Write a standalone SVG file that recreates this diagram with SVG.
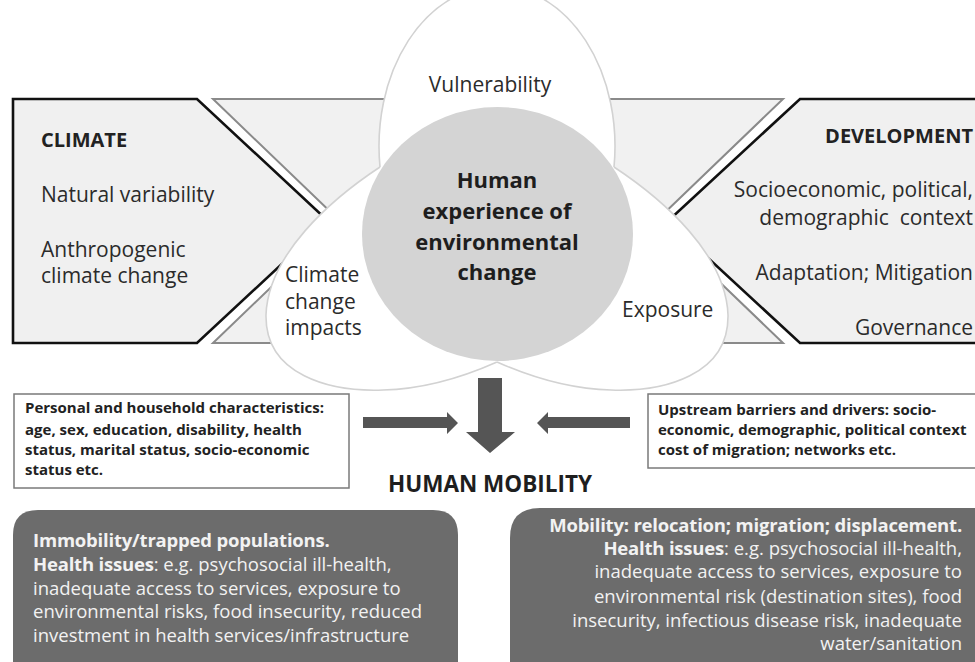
<svg xmlns="http://www.w3.org/2000/svg" width="975" height="662" viewBox="0 0 975 662">
  <style>
    text { font-family: "Open Sans", "Liberation Sans", sans-serif; }
    .side { font-size: 21px; fill: #2b2b2b; }
    .sideb { font-size: 20px; font-weight: bold; fill: #222; }
    .petal-fill { fill: #ffffff; stroke: none; }
    .petal-line { fill: none; stroke: #d2d2d2; stroke-width: 1.6; }
    .plabel { font-size: 21px; fill: #2b2b2b; }
    .core { font-size: 22px; font-weight: bold; fill: #1e1e1e; text-anchor: middle; }
    .factor-box { fill: #ffffff; stroke: #7a7a7a; stroke-width: 1.5; }
    .factor { font-size: 15px; font-weight: bold; fill: #222; }
    .arrow { fill: #555555; }
    .outcome { fill: #6c6c6c; }
    .otext { font-size: 18.5px; fill: #f2f2f2; }
    .otext .b { font-weight: bold; letter-spacing: -0.2px; }
  </style>

  <rect width="975" height="662" fill="#ffffff"/>

  <!-- notched band joining the two context panels -->
  <g id="band">
    <polygon points="213,99 783,99 656,221 783,343 213,343 340,221" fill="#f1f1f1" stroke="#8a8a8a" stroke-width="2"/>
  </g>

  <!-- CLIMATE panel -->
  <g id="climate">
    <polygon points="13,99 197,99 328,221 197,343 13,343" fill="#f0f0f0" stroke="#111" stroke-width="2.6"/>
    <text class="sideb" x="41" y="147">CLIMATE</text>
    <text class="side" x="41" y="202">Natural variability</text>
    <text class="side" x="41" y="257">Anthropogenic</text>
    <text class="side" x="41" y="283">climate change</text>
  </g>

  <!-- DEVELOPMENT panel -->
  <g id="development">
    <polygon points="800,99 990,99 990,343 800,343 668,221" fill="#f0f0f0" stroke="#111" stroke-width="2.6"/>
    <text class="sideb" x="973" y="143" text-anchor="end">DEVELOPMENT</text>
    <text class="side" x="973" y="197" text-anchor="end">Socioeconomic, political,</text>
    <text class="side" x="973" y="225" text-anchor="end" xml:space="preserve">demographic  context</text>
    <text class="side" x="973" y="280" text-anchor="end">Adaptation; Mitigation</text>
    <text class="side" x="973" y="335" text-anchor="end">Governance</text>
  </g>

  <!-- Venn petals -->
  <g id="vulnerability">
    <path class="petal-fill" d="M380,167 A118,160 0 1 1 614,167 L640,230 L497,300 L355,230 Z"/>
    <path class="petal-line" d="M380,167 A118,160 0 1 1 614,167"/>
    <text class="plabel" x="490" y="92" text-anchor="middle">Vulnerability</text>
  </g>
  <g id="climate-impacts">
    <path class="petal-fill" d="M380,167 C330,200 268,255 266,315 C265,375 330,392 383,390 C430,389 470,374 497,362 L520,300 L470,200 Z"/>
    <path class="petal-line" d="M380,167 C330,200 268,255 266,315 C265,375 330,392 383,390 C430,389 470,374 497,362"/>
    <text class="plabel" x="285" y="282">Climate</text>
    <text class="plabel" x="285" y="309">change</text>
    <text class="plabel" x="285" y="335">impacts</text>
  </g>
  <g id="exposure">
    <path class="petal-fill" d="M614,167 C664,200 726,255 728,315 C729,375 664,392 611,390 C564,389 524,374 497,362 L474,300 L524,200 Z"/>
    <path class="petal-line" d="M614,167 C664,200 726,255 728,315 C729,375 664,392 611,390 C564,389 524,374 497,362"/>
    <text class="plabel" x="622" y="317">Exposure</text>
  </g>

  <!-- central circle -->
  <g id="core">
    <ellipse cx="497.5" cy="234" rx="135.5" ry="127" fill="#d4d4d4"/>
    <text class="core" x="497" y="188">Human</text>
    <text class="core" x="497" y="219">experience of</text>
    <text class="core" x="497" y="250">environmental</text>
    <text class="core" x="497" y="280">change</text>
  </g>

  <!-- factor boxes -->
  <g id="personal">
    <rect class="factor-box" x="14" y="394" width="335" height="94"/>
    <text class="factor" x="25" y="413">Personal and household characteristics:</text>
    <text class="factor" x="25" y="435">age, sex, education, disability, health</text>
    <text class="factor" x="25" y="455">status, marital status, socio-economic</text>
    <text class="factor" x="25" y="475">status etc.</text>
  </g>
  <g id="upstream">
    <rect class="factor-box" x="648" y="394" width="340" height="74"/>
    <text class="factor" x="658" y="415">Upstream barriers and drivers: socio-</text>
    <text class="factor" x="658" y="435">economic, demographic, political context</text>
    <text class="factor" x="658" y="455">cost of migration; networks etc.</text>
  </g>

  <!-- arrows -->
  <g id="connectors">
    <polygon class="arrow" points="478,378 502,378 502,432 515,432 490,453 466,432 478,432"/>
    <polygon class="arrow" points="363,417 447,417 447,412 458,423 447,434 447,428 363,428"/>
    <polygon class="arrow" points="630,417 548,417 548,412 537,423 548,434 548,428 630,428"/>
  </g>

  <g id="human-mobility">
    <text x="490" y="492" text-anchor="middle" font-size="22.5" font-weight="bold" fill="#1e1e1e">HUMAN MOBILITY</text>
  </g>

  <!-- outcome panels -->
  <g id="immobility">
    <path class="outcome" d="M13,662 L13,535 Q13,510 38,510 L433,510 Q458,510 458,535 L458,662 Z"/>
    <text class="otext" x="33" y="547"><tspan class="b">Immobility/trapped populations.</tspan></text>
    <text class="otext" x="33" y="571"><tspan class="b">Health issues</tspan>: e.g. psychosocial ill-health,</text>
    <text class="otext" x="33" y="595">inadequate access to services, exposure to</text>
    <text class="otext" x="33" y="618">environmental risks, food insecurity, reduced</text>
    <text class="otext" x="33" y="642">investment in health services/infrastructure</text>
  </g>
  <g id="mobility">
    <path class="outcome" d="M510,662 L510,538 Q510,508 540,508 L990,508 L990,662 Z"/>
    <text class="otext" x="962" y="532" text-anchor="end"><tspan class="b">Mobility: relocation; migration; displacement.</tspan></text>
    <text class="otext" x="962" y="555" text-anchor="end"><tspan class="b">Health issues</tspan>: e.g. psychosocial ill-health,</text>
    <text class="otext" x="962" y="578" text-anchor="end">inadequate access to services, exposure to</text>
    <text class="otext" x="962" y="603" text-anchor="end">environmental risk (destination sites), food</text>
    <text class="otext" x="962" y="627" text-anchor="end">insecurity, infectious disease risk, inadequate</text>
    <text class="otext" x="962" y="650" text-anchor="end">water/sanitation</text>
  </g>
</svg>
